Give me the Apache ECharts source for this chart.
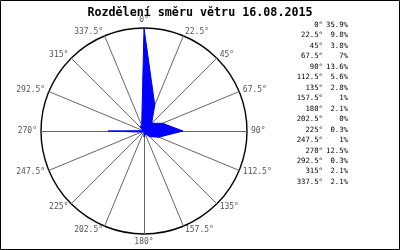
<!DOCTYPE html>
<html><head><meta charset="utf-8">
<script src="https://cdn.jsdelivr.net/npm/echarts@6/dist/echarts.min.js"></script>
<style>html,body{margin:0;padding:0;background:#fff}#c{width:400px;height:250px}</style>
</head><body><div id="c"></div>
<script>
const titleText = 'Rozdělení směru větru 16.08.2015';
const directions = ['0°','22.5°','45°','67.5°','90°','112.5°','135°','157.5°','180°','202.5°','225°','247.5°','270°','292.5°','315°','337.5°'];
const values = [35.9, 9.8, 3.8, 7, 13.6, 5.6, 2.8, 1, 2.1, 0, 0.3, 1, 12.5, 0.3, 2.1, 2.1];
const maxValue = 35.9;

// radar goes counter-clockwise, so reorder to clockwise
const order = [0];
for (let i = directions.length - 1; i >= 1; i--) order.push(i);
const indicators = order.map(i => ({ name: directions[i], max: maxValue, min: 0 }));
const radarValues = order.map(i => values[i]);

const mono = '"DejaVu Sans Mono", "Liberation Mono", monospace';
const graphics = [
  { type: 'rect', shape: { x: 0.5, y: 0.5, width: 399, height: 249 }, style: { fill: 'none', stroke: '#000', lineWidth: 1 }, silent: true }
];
directions.forEach((d, i) => {
  const y = 25 + i * 10.47;
  graphics.push({ type: 'text', x: 323, y: y, style: { text: d, fill: '#000', font: '7.3px ' + mono, textAlign: 'right', textVerticalAlign: 'middle' } });
  graphics.push({ type: 'text', x: 348, y: y, style: { text: String(values[i]) + '%', fill: '#000', font: '7.3px ' + mono, textAlign: 'right', textVerticalAlign: 'middle' } });
});

const chart = echarts.init(document.getElementById('c'), null, { renderer: 'canvas' });
chart.setOption({
  animation: false,
  backgroundColor: '#fff',
  title: {
    text: titleText, left: 'center', top: 2,
    textStyle: { fontFamily: mono, fontWeight: 'bold', fontSize: 11.7, color: '#000' }
  },
  radar: {
    center: [144, 131],
    radius: 103,
    startAngle: 90,
    splitNumber: 1,
    shape: 'circle',
    indicator: indicators,
    axisName: { color: '#555', fontFamily: mono, fontSize: 8 },
    nameGap: 4,
    axisLine: { lineStyle: { color: '#666', width: 1 } },
    splitLine: { lineStyle: { color: '#000', width: 1.4 } },
    splitArea: { show: false },
    axisTick: { show: false },
    axisLabel: { show: false }
  },
  series: [{
    type: 'radar',
    symbol: 'none',
    data: [{ value: radarValues }],
    lineStyle: { color: '#0000ff', width: 1 },
    areaStyle: { color: '#0000ff', opacity: 1 }
  }],
  graphic: graphics
});
</script></body></html>
